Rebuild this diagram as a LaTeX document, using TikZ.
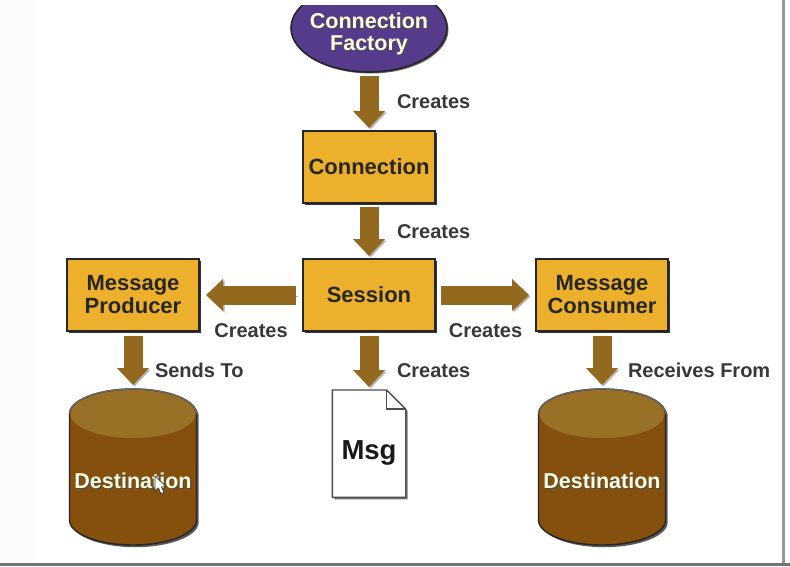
\documentclass[tikz,border=0pt]{standalone}
\usepackage{xcolor}
\usepackage{fontspec}
\setmainfont{Liberation Sans}
\usetikzlibrary{arrows.meta,positioning,shapes.geometric,shadows}

\definecolor{boxgold}{HTML}{EDB02C}
\definecolor{arrowbrown}{HTML}{93691F}
\definecolor{drumbody}{HTML}{854F0E}
\definecolor{drumtop}{HTML}{997126}
\definecolor{factorypurple}{HTML}{563A8C}

% white lettering with a dark edge
\newcommand{\edgedtext}[1]{\rlap{\kern1.2pt\raisebox{-1.2pt}{\color{black!70}#1}}{\color{white!88!yellow}#1}}

\begin{document}
\begin{tikzpicture}[x=1pt,y=-1pt]
            \tikzset{
                block/.style = {draw=black!85, line width=1.4pt, fill=boxgold, rectangle, outer sep=0pt,
                    minimum width=132pt, minimum height=72pt, align=center, text=black!85,
                    font=\fontsize{22}{23}\bfseries\selectfont,
                    drop shadow={shadow xshift=2.2pt, shadow yshift=-2.2pt, fill=black, opacity=0.8}},
                drumspot/.style = {minimum width=127pt, minimum height=156pt, inner sep=0pt, outer sep=0pt},
                drumline/.style = {draw=black!85, line width=1.4pt},
                fat/.style = {-{Triangle[width=31pt,length=17pt]}, line width=19pt, draw=arrowbrown,
                    preaction={draw=black!30, transform canvas={shift={(1.5pt,-1.5pt)}}}},
                lbl/.style = {inner sep=0pt, outer sep=0pt, text=black!78, font=\fontsize{20}{22}\bfseries\selectfont}
            }

            % page: pale strip on the left, grey rules right and bottom
            \useasboundingbox (0,0) rectangle (790,567);
            \fill[white] (0,0) rectangle (790,567);
            \fill[blue!1] (0,0) rectangle (38,563);
            \fill[black!55] (0,563) rectangle (790,565.5);
            \fill[black!40] (782,0) rectangle (785,563);

            \node [block] (session) at (369,295) {Session};
            \node [block, above = 56pt of session] (connection) {Connection};
            \node [block, left = 104pt of session] (producer) {Message\\Producer};
            \node [block, right = 101pt of session] (consumer) {Message\\Consumer};

            % factory oval runs off the top edge
            \node [draw=black!85, line width=1.6pt, ellipse, fill=factorypurple, minimum width=156pt, minimum height=88pt,
                   outer sep=0pt, drop shadow={shadow xshift=1.5pt, shadow yshift=-1.5pt, fill=black, opacity=0.6}]
                   (factory) at (369,28) {};
            \fill[white] (270,-20) rectangle (470,5);
            \node [align=center, font=\fontsize{21.5}{22.5}\bfseries\selectfont] (factorytext) at (369,34.5)
                   {\edgedtext{Connection}\\\edgedtext{Factory}};

            \node [drumspot, below = 58pt of producer] (destleft) {};
            \node [drumspot, below = 58pt of consumer] (destright) {};

            % both drums: body, then the lighter lid
            \foreach \drum in {destleft,destright} {
                \begin{scope}[shift={(\drum.center)}]
                    \draw [drumline, fill=drumbody,
                           drop shadow={shadow xshift=2.2pt, shadow yshift=-2.2pt, fill=black, opacity=0.65}]
                        (-63.5,-53) -- (-63.5,53) arc[start angle=180, end angle=360, x radius=63.5pt, y radius=25pt]
                        -- (63.5,-53) arc[start angle=0, end angle=180, x radius=63.5pt, y radius=25pt] -- cycle;
                    \fill [drumtop] (0,-53) ellipse [x radius=62.5pt, y radius=24pt];
                    \draw [draw=black!60, line width=1.4pt]
                        (63.5,-53) arc[start angle=0, end angle=180, x radius=63.5pt, y radius=25pt];
                \end{scope}
                \node [font=\fontsize{21.5}{23}\bfseries\selectfont] (\drum text) at ([yshift=-14pt]\drum.center) {\edgedtext{Destination}};
            }

            % message sheet with folded corner
            \node [minimum width=73pt, minimum height=107pt, inner sep=0pt, below = 59pt of session] (msgsheet) {};
            \draw [draw=black!70, line width=1.4pt, fill=white, line join=round,
                   drop shadow={shadow xshift=2pt, shadow yshift=-2pt, fill=black, opacity=0.55}]
                  (msgsheet.north west) -- ([xshift=-19pt]msgsheet.north east) -- ([yshift=-19pt]msgsheet.north east)
                  -- (msgsheet.south east) -- (msgsheet.south west) -- cycle;
            \draw [draw=black!70, line width=1.4pt, line join=round]
                  ([xshift=-19pt]msgsheet.north east) -- ([xshift=-19pt,yshift=-19pt]msgsheet.north east) -- ([yshift=-19pt]msgsheet.north east);
            \node [font=\fontsize{27.5}{30}\bfseries\selectfont, text=black!90, yshift=-9pt] (msgtext) at (msgsheet) {Msg};

            \draw [fat, shorten <=4pt, shorten >=3pt] (factory) -- node[lbl, right=28pt] {Creates} (connection);
            \draw [fat, shorten <=4pt, shorten >=3pt] (connection) -- node[lbl, right=28pt, yshift=-1pt] {Creates} (session);
            \draw [fat, shorten <=5pt, shorten >=3pt] (session) -- node[lbl, right=28pt, yshift=-10pt] {Creates} (msgsheet);
            \draw [fat, shorten <=7pt, shorten >=7pt] (session) -- node[lbl, below=29pt] {Creates} (producer);
            \draw [fat, shorten <=6pt, shorten >=7pt] (session) -- node[lbl, below=29pt] {Creates} (consumer);
            \draw [fat, shorten <=5pt, shorten >=4pt] (producer) -- node[lbl, right=22pt, yshift=-10pt] {Sends To} (destleft);
            \draw [fat, shorten <=5pt, shorten >=4pt] (consumer) -- node[lbl, right=26pt, yshift=-10pt] {Receives From} (destright);

            % mouse pointer over the left drum
            \draw [draw=black!80, fill=white, line width=0.7pt, line join=round]
                  (155,476) -- (155,491) -- (158.5,488) -- (161,494) -- (164,492.5) -- (161.5,487) -- (166,486.5) -- cycle;
\end{tikzpicture}
\end{document}
